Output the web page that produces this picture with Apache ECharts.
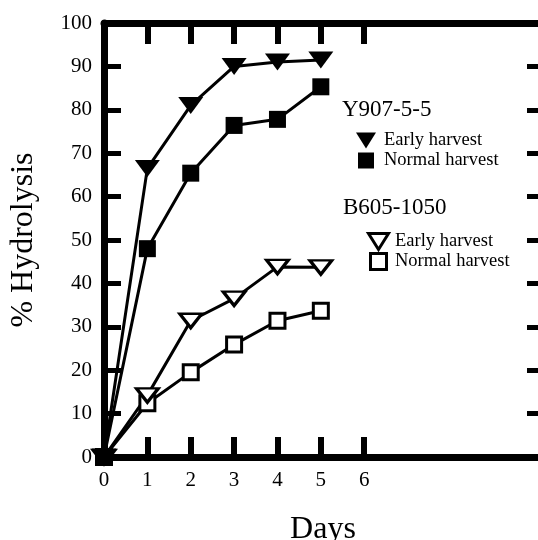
<!DOCTYPE html>
<html>
<head>
<meta charset="utf-8">
<script src="https://cdn.jsdelivr.net/npm/echarts@6/dist/echarts.min.js"></script>
<style>
  html, body { margin: 0; padding: 0; background: #fff; }
  #chart { width: 538px; height: 540px; }
</style>
</head>
<body>
<div id="chart"></div>
<script>
// days after harvest
var days = [0, 1, 2, 3, 4, 5];
var yTicks = [0, 10, 20, 30, 40, 50, 60, 70, 80, 90, 100];
var xTicks = [1, 2, 3, 4, 5, 6];

// % hydrolysis
var y907Early = [0, 66.5, 81, 90, 91, 91.5];
var y907Normal = [0, 48, 65.4, 76.4, 77.8, 85.3];
var b605Early = [0, 14.2, 31.4, 36.5, 43.8, 43.7];
var b605Normal = [0, 12.4, 19.5, 25.9, 31.4, 33.7];

var serif = "'Liberation Serif', 'Times New Roman', serif";
var triDown = "path://M0,0L20,0L10,16Z";
var square = "path://M0,0L16,0L16,16L0,16Z";

function pairs(vals) {
  return days.map(function (d, i) { return [d, vals[i]]; });
}

var filled = { color: "#000" };
var hollow = { color: "#fff", borderColor: "#000", borderWidth: 3 };

function makeSeries(name, vals, symbol, size, style) {
  return {
    name: name,
    type: "line",
    data: pairs(vals),
    symbol: symbol,
    symbolSize: size,
    symbolKeepAspect: false,
    showAllSymbol: true,
    clip: false,
    lineStyle: { color: "#000", width: 3 },
    itemStyle: style,
    emphasis: { disabled: true }
  };
}

function shortName(n) {
  return n.split(" ").slice(1).join(" ");
}

var myChart = echarts.init(document.getElementById("chart"));
myChart.setOption({
  animation: false,
  backgroundColor: "#fff",
  grid: { left: 104, right: -4, top: 23, bottom: 83, outerBoundsMode: "none", containLabel: false },
  title: [
    { text: "Y907-5-5", left: 337, top: 93, textStyle: { fontFamily: serif, fontSize: 23, fontWeight: "normal", color: "#000" } },
    { text: "B605-1050", left: 338, top: 191, textStyle: { fontFamily: serif, fontSize: 23, fontWeight: "normal", color: "#000" } }
  ],
  legend: [
    {
      orient: "vertical",
      left: 356,
      top: 131,
      padding: 0,
      itemWidth: 26,
      itemHeight: 16,
      itemGap: 1,
      selectedMode: false,
      formatter: shortName,
      textStyle: { fontFamily: serif, fontSize: 18.5, color: "#000", lineHeight: 16 },
      data: [
        { name: "Y907 Early harvest", icon: triDown, itemStyle: filled },
        { name: "Y907 Normal harvest", icon: square, itemStyle: filled }
      ]
    },
    {
      orient: "vertical",
      left: 367,
      top: 232,
      padding: 0,
      itemWidth: 23,
      itemHeight: 16,
      itemGap: 1,
      selectedMode: false,
      formatter: shortName,
      textStyle: { fontFamily: serif, fontSize: 18.5, color: "#000", lineHeight: 16 },
      data: [
        { name: "B605 Early harvest", icon: triDown, itemStyle: hollow },
        { name: "B605 Normal harvest", icon: square, itemStyle: hollow }
      ]
    }
  ],
  xAxis: [
    {
      type: "value",
      min: 0,
      max: 10.1,
      interval: 1,
      name: "Days",
      nameLocation: "middle",
      nameGap: 57,
      nameTextStyle: { fontFamily: serif, fontSize: 32, color: "#000" },
      axisLine: { onZero: false, lineStyle: { color: "#000", width: 7 } },
      axisTick: { inside: true, length: 20, lineStyle: { color: "#000", width: 6 }, customValues: xTicks },
      axisLabel: {
        fontFamily: serif, fontSize: 21, color: "#000", margin: 13,
        showMaxLabel: false,
        formatter: function (v) { return v <= 6 ? String(v) : ""; }
      },
      splitLine: { show: false }
    },
    {
      type: "value",
      position: "top",
      min: 0,
      max: 10.1,
      interval: 1,
      axisLine: { onZero: false, lineStyle: { color: "#000", width: 7 } },
      axisTick: { inside: true, length: 21, lineStyle: { color: "#000", width: 6 }, customValues: xTicks },
      axisLabel: { show: false },
      splitLine: { show: false }
    }
  ],
  yAxis: [
    {
      type: "value",
      min: 0,
      max: 100,
      interval: 10,
      name: "% Hydrolysis",
      nameLocation: "middle",
      nameRotate: 90,
      nameGap: 64,
      nameTextStyle: { fontFamily: serif, fontSize: 32, color: "#000" },
      axisLine: { show: true, onZero: false, lineStyle: { color: "#000", width: 7 } },
      axisTick: { inside: true, length: 17, lineStyle: { color: "#000", width: 5 } },
      axisLabel: {
        fontFamily: serif, fontSize: 21, color: "#000", margin: 12,
        formatter: function (v) { return yTicks.indexOf(v) >= 0 ? String(v) : ""; }
      },
      splitLine: { show: false }
    },
    {
      type: "value",
      position: "right",
      min: 0,
      max: 100,
      interval: 10,
      axisLine: { show: true, onZero: false, lineStyle: { color: "#000", width: 7 } },
      axisTick: { inside: true, length: 15, lineStyle: { color: "#000", width: 5 }, customValues: yTicks.slice(1, 10) },
      axisLabel: { show: false },
      splitLine: { show: false }
    }
  ],
  series: [
    makeSeries("B605 Normal harvest", b605Normal, square, 15, hollow),
    makeSeries("B605 Early harvest", b605Early, triDown, [22, 14], hollow),
    makeSeries("Y907 Normal harvest", y907Normal, square, 17, filled),
    makeSeries("Y907 Early harvest", y907Early, triDown, [25, 17], filled)
  ]
});
</script>
</body>
</html>
